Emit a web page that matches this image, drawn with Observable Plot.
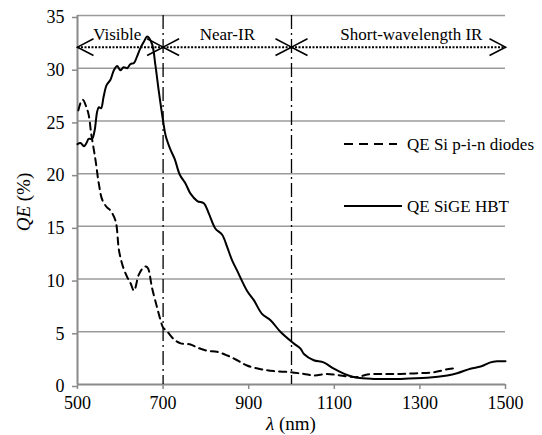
<!DOCTYPE html>
<html>
<head>
<meta charset="utf-8">
<script src="https://cdn.jsdelivr.net/npm/d3@7"></script>
<script src="https://cdn.jsdelivr.net/npm/@observablehq/plot@0.6"></script>
<style>
  html, body { margin: 0; padding: 0; background: #fff; }
  #wrap { position: relative; width: 542px; height: 435px; font-family: 'Times New Roman'; }
  #chart svg { display: block; }
  #chart svg text { font-family: 'Times New Roman'; }
  .leg-swatch { position: absolute; left: 344px; width: 62px; height: 20px; overflow: visible; }
  .leg-text { position: absolute; left: 407px; font-family: 'Times New Roman'; font-size: 17px; line-height: 17px; white-space: nowrap; color: black; }
</style>
</head>
<body>
<div id="wrap">
  <div id="chart"></div>
  <div id="legend"></div>
</div>
<script>
// ---- Data ----
// QE SiGE HBT (solid)
const wavelengthHBT = [500, 507, 515, 521, 526, 534, 540, 546, 550, 555, 561, 568, 577, 585, 593, 600, 608, 616, 624, 632, 639, 647, 655, 663, 674, 682, 690, 700, 706, 717, 727, 739, 752, 764, 780, 795, 807, 822, 838, 850, 861, 873, 896, 912, 931, 951, 974, 1005, 1021, 1029, 1052, 1075, 1099, 1130, 1154, 1192, 1255, 1317, 1364, 1387, 1418, 1442, 1465, 1480, 1500];
const qeHBT = [22.8, 22.9, 22.6, 22.9, 23.3, 23.3, 24.1, 25.9, 26.3, 26.2, 27.3, 28.4, 28.9, 29.8, 30.2, 29.8, 30.1, 30.0, 30.4, 30.5, 31.1, 31.9, 32.5, 33.0, 32.3, 30.3, 27.8, 25.0, 23.6, 22.3, 21.4, 19.9, 19.1, 18.1, 17.4, 17.2, 16.2, 14.8, 14.2, 13.0, 11.8, 10.8, 8.9, 8.0, 6.7, 6.1, 5.0, 3.9, 3.4, 2.9, 2.3, 2.1, 1.5, 0.9, 0.63, 0.53, 0.53, 0.63, 0.86, 1.07, 1.5, 1.7, 2.1, 2.2, 2.2];

// QE Si p-i-n diodes (dashed)
const wavelengthPin = [502, 508, 513, 519, 526, 532, 542, 550, 558, 569, 577, 589, 597, 606, 616, 624, 632, 643, 652, 660, 665, 674, 686, 694, 700, 710, 725, 741, 764, 780, 803, 826, 850, 873, 896, 928, 959, 998, 1029, 1052, 1083, 1114, 1154, 1177, 1216, 1255, 1294, 1333, 1372, 1382];
const qePin = [26.0, 26.8, 27.0, 26.5, 25.6, 23.8, 21.3, 19.0, 17.5, 16.8, 16.5, 15.5, 12.7, 11.2, 10.2, 9.6, 8.9, 10.4, 11.0, 11.2, 11.0, 9.2, 7.3, 6.1, 5.4, 5.0, 4.3, 3.9, 3.8, 3.5, 3.2, 3.1, 2.75, 2.3, 1.8, 1.45, 1.27, 1.17, 1.0, 0.86, 1.0, 0.86, 0.70, 0.95, 1.0, 1.0, 1.07, 1.17, 1.5, 1.5];

// Spectral regions
const regionBounds = [500, 700, 1000, 1500];
const regionNames = ["Visible", "Near-IR", "Short-wavelength IR"];
const regionLabelX = [593, 850, 1280];
const regionArrowQE = 32;
const regionLabelQE = 33.2;
const regionDividers = [700, 1000];

// Axes
const xTicks = [500, 700, 900, 1100, 1300, 1500];
const yTicks = [0, 5, 10, 15, 20, 25, 30, 35];

// Legend labels
const legendLabels = ["QE Si p-i-n diodes", "QE SiGE HBT"];

// ---- Build tables ----
const hbt = wavelengthHBT.map((x, i) => ({x, y: qeHBT[i]}));
const pin = wavelengthPin.map((x, i) => ({x, y: qePin[i]}));
const regions = regionNames.map((name, i) => ({
  name, x1: regionBounds[i], x2: regionBounds[i + 1], lx: regionLabelX[i]
}));

// open chevron arrowheads (tip at the origin)
const chevronLeft = {draw(ctx) { ctx.moveTo(16, -8.3); ctx.lineTo(0, 0); ctx.lineTo(16, 8.3); }};
const chevronRight = {draw(ctx) { ctx.moveTo(-16, -8.3); ctx.lineTo(0, 0); ctx.lineTo(-16, 8.3); }};

const FONT = "Times New Roman";
const GRID = "#9b9b9b";
const AXIS = "#8a8a8a";

const chart = Plot.plot({
  width: 542,
  height: 435,
  marginLeft: 77,
  marginRight: 37,
  marginTop: 15,
  marginBottom: 51,
  style: {fontFamily: FONT, fontSize: "18px", color: "black", background: "white"},
  x: {domain: [500, 1500], label: null},
  y: {domain: [0, 35], label: null},
  marks: [
    Plot.ruleY(yTicks.filter(d => d > 0), {stroke: GRID, strokeWidth: 1.5}),
    Plot.axisX({ticks: xTicks, tickFormat: d => String(d), tickSize: 5, tickPadding: 7, stroke: AXIS, strokeWidth: 1.5, fill: "black", label: null, fontSize: 18, fontFamily: FONT}),
    Plot.axisY({ticks: yTicks, tickFormat: d => String(d), tickSize: 5, tickPadding: 8, stroke: AXIS, strokeWidth: 1.5, fill: "black", label: null, fontSize: 18, dy: 2, fontFamily: FONT}),
    Plot.ruleY([0], {stroke: AXIS, strokeWidth: 2}),
    Plot.ruleX([500], {stroke: AXIS, strokeWidth: 2}),
    Plot.ruleX(regionDividers, {stroke: "black", strokeWidth: 1.3, strokeDasharray: "14,4,2,4"}),
    Plot.line(pin, {x: "x", y: "y", stroke: "black", strokeWidth: 2, strokeDasharray: "7,5", curve: "catmull-rom"}),
    Plot.line(hbt, {x: "x", y: "y", stroke: "black", strokeWidth: 2, curve: "catmull-rom"}),
    Plot.link(regions, {x1: "x1", x2: "x2", y1: () => regionArrowQE, y2: () => regionArrowQE, stroke: "black", strokeWidth: 2, strokeDasharray: "2,1.5"}),
    Plot.dot(regions, {x: "x1", y: () => regionArrowQE, symbol: chevronLeft, stroke: "black", fill: "none", strokeWidth: 1.6}),
    Plot.dot(regions, {x: "x2", y: () => regionArrowQE, symbol: chevronRight, stroke: "black", fill: "none", strokeWidth: 1.6}),
    Plot.text(regions, {x: "lx", y: () => regionLabelQE, text: "name", fontSize: 17, fill: "black", fontFamily: FONT})
  ]
});

document.getElementById("chart").appendChild(chart);

// Axis titles with mixed italic / upright text
const svg = d3.select(chart);
const xl = svg.append("text").attr("x", 291).attr("y", 430).attr("text-anchor", "middle")
  .attr("font-size", 19).attr("font-family", FONT).attr("fill", "black");
xl.append("tspan").attr("font-style", "italic").text("λ");
xl.append("tspan").text(" (nm)");

const yl = svg.append("text").attr("transform", "translate(30,202) rotate(-90)").attr("text-anchor", "middle")
  .attr("font-size", 19).attr("font-family", FONT).attr("fill", "black");
yl.append("tspan").attr("font-style", "italic").text("QE");
yl.append("tspan").text(" (%)");

// Legend (HTML overlay inside the plot area)
const legendRows = [
  {label: legendLabels[0], y: 144, len: 53, dash: "9,6"},
  {label: legendLabels[1], y: 206, len: 58, dash: null}
];
const legendDiv = d3.select("#legend");
legendRows.forEach(r => {
  const sw = legendDiv.append("svg").attr("class", "leg-swatch").style("top", (r.y - 10) + "px")
    .attr("width", 62).attr("height", 20);
  const ln = sw.append("line").attr("x1", 0).attr("x2", r.len).attr("y1", 10).attr("y2", 10)
    .attr("stroke", "black").attr("stroke-width", 2);
  if (r.dash) ln.attr("stroke-dasharray", r.dash);
  legendDiv.append("div").attr("class", "leg-text").style("top", (r.y + 6 - 14.25) + "px").text(r.label);
});
</script>
</body>
</html>
